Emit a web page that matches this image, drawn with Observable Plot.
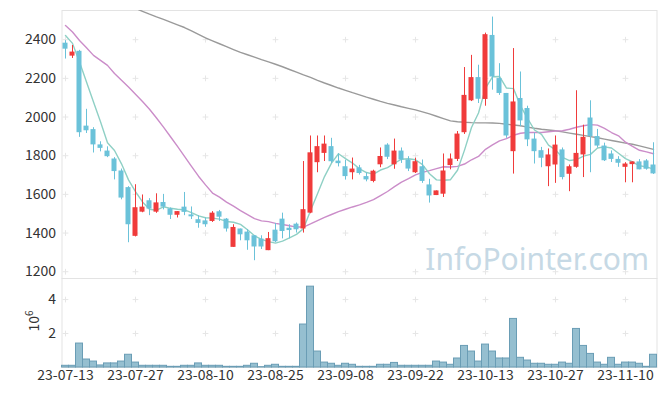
<!DOCTYPE html>
<html><head><meta charset="utf-8">
<script src="https://cdn.jsdelivr.net/npm/d3@7"></script>
<script src="https://cdn.jsdelivr.net/npm/@observablehq/plot@0.6"></script>
<style>
body{margin:0;background:#fff;}
#wrap{position:relative;width:665px;height:396px;font-family:"Noto Sans CJK KR","Noto Sans",sans-serif;overflow:hidden;}
#wrap svg{position:absolute;left:0;}
#unit{position:absolute;left:32px;top:321px;transform:translate(-50%,-50%) rotate(-90deg);font-size:14px;color:#333;white-space:nowrap;}
#unit sup{font-size:10px;}
</style></head><body><div id="wrap"><div id="unit">10<sup>6</sup></div></div>
<script>
const dates = ["23-07-13","23-07-14","23-07-17","23-07-18","23-07-19","23-07-20","23-07-21","23-07-24","23-07-25","23-07-26",
"23-07-27","23-07-28","23-07-31","23-08-01","23-08-02","23-08-03","23-08-04","23-08-07","23-08-08","23-08-09",
"23-08-10","23-08-11","23-08-14","23-08-16","23-08-17","23-08-18","23-08-21","23-08-22","23-08-23","23-08-24",
"23-08-25","23-08-28","23-08-29","23-08-30","23-08-31","23-09-01","23-09-04","23-09-05","23-09-06","23-09-07",
"23-09-08","23-09-11","23-09-12","23-09-13","23-09-14","23-09-15","23-09-18","23-09-19","23-09-20","23-09-21",
"23-09-22","23-09-25","23-09-26","23-09-27","23-10-04","23-10-05","23-10-06","23-10-10","23-10-11","23-10-12",
"23-10-13","23-10-16","23-10-17","23-10-18","23-10-19","23-10-20","23-10-23","23-10-24","23-10-25","23-10-26",
"23-10-27","23-10-30","23-10-31","23-11-01","23-11-02","23-11-03","23-11-06","23-11-07","23-11-08","23-11-09",
"23-11-10","23-11-13","23-11-14","23-11-15","23-11-16"];

const open  = [2382,2315,2340,1953,1935,1856,1824,1783,1721,1635, 1383,1508,1567,1508,1558,1525,1492,1534,1494,1469,
               1463,1460,1510,1472,1326,1421,1405,1386,1369,1309, 1415,1472,1425,1446,1421,1503,1764,1812,1847,1772,
               1743,1712,1737,1692,1667,1753,1855,1753,1824,1778, 1712,1743,1649,1594,1601,1749,1781,1919,2084,2204,
               2091,2422,2199,2122,1821,2096,2044,1886,1826,1743, 1752,1830,1704,1740,1804,1995,1899,1850,1809,1781,
               1740,1754,1768,1773,1752];
const high  = [2395,2370,2345,2040,1945,1872,1846,1790,1731,1640, 1650,1597,1578,1603,1600,1530,1511,1610,1535,1490,
               1478,1511,1517,1475,1443,1421,1418,1386,1386,1403, 1450,1503,1443,1452,1770,1902,1902,1902,1890,1810,
               1777,1788,1750,1710,1725,1840,1862,1886,1840,1795, 1787,1778,1678,1618,1809,1809,1925,2256,2319,2268,
               2434,2517,2276,2122,2354,2233,2056,1917,1843,1835, 1902,1840,1752,2136,1958,2084,1936,1865,1825,1795,
               1764,1768,1780,1780,1867];
const low   = [2300,2303,1895,1915,1814,1820,1790,1675,1572,1350, 1380,1505,1490,1502,1520,1470,1478,1490,1470,1425,
               1430,1455,1460,1405,1326,1360,1311,1257,1315,1309, 1350,1370,1370,1400,1400,1500,1712,1770,1760,1742,
               1674,1675,1700,1665,1660,1738,1780,1730,1760,1718, 1708,1657,1555,1594,1584,1727,1770,1910,2080,2070,
               2056,2139,2112,1890,1705,1950,1847,1757,1738,1640, 1657,1675,1614,1735,1687,1712,1840,1770,1765,1740,
               1660,1660,1727,1725,1703];
const close = [2351,2336,1919,1929,1856,1838,1795,1718,1581,1443, 1531,1534,1524,1556,1534,1492,1511,1507,1484,1450,
               1443,1503,1482,1421,1429,1391,1360,1328,1328,1371, 1355,1408,1413,1417,1521,1815,1847,1860,1769,1759,
               1692,1731,1708,1675,1720,1796,1792,1824,1778,1731, 1769,1667,1592,1618,1721,1783,1912,2112,2204,2092,
               2426,2207,2122,1902,2078,1980,1882,1821,1787,1804, 1855,1687,1743,1812,1895,1899,1850,1774,1781,1761,
               1757,1768,1727,1730,1706];
// volume, millions of shares
const volume = [0.10,0.10,1.41,0.47,0.35,0.12,0.24,0.24,0.35,0.75, 0.29,0.10,0.10,0.10,0.10,0.04,0.04,0.10,0.10,0.24,
                0.10,0.10,0.10,0.04,0.04,0.04,0.10,0.22,0.02,0.10, 0.16,0.04,0.04,0.04,2.53,4.76,0.94,0.29,0.22,0.10,
                0.22,0.16,0.04,0.04,0.04,0.16,0.16,0.27,0.10,0.10, 0.10,0.10,0.10,0.35,0.29,0.16,0.53,1.27,0.94,0.35,
                1.35,0.94,0.53,0.53,2.86,0.57,0.41,0.22,0.22,0.16, 0.16,0.29,0.22,2.27,1.27,0.80,0.29,0.16,0.57,0.16,
                0.29,0.29,0.22,0.04,0.75];
const ma5  = [2422,2381,2285,2181,2078,1976,1867,1827,1758,1675, 1614,1561,1523,1518,1536,1528,1523,1520,1506,1489,
              1479,1477,1472,1460,1456,1445,1417,1386,1367,1356, 1348,1358,1375,1393,1423,1515,1603,1692,1762,1810,
              1785,1762,1732,1713,1705,1726,1738,1761,1782,1784, 1779,1754,1707,1675,1673,1676,1725,1829,1946,2021,
              2149,2208,2210,2150,2147,2058,1993,1933,1910,1855, 1830,1791,1775,1780,1798,1807,1840,1846,1840,1813,
              1785,1768,1748,1742,1731];
const ma20 = [2474,2440,2396,2358,2319,2293,2267,2225,2190,2155, 2118,2080,2040,1995,1948,1898,1848,1797,1745,1694,
              1649,1607,1586,1560,1539,1516,1495,1475,1463,1459, 1450,1444,1438,1431,1431,1447,1464,1481,1496,1511,
              1523,1535,1546,1559,1573,1594,1615,1640,1663,1681, 1701,1714,1723,1733,1743,1742,1745,1757,1779,1796,
              1833,1856,1877,1888,1906,1916,1920,1920,1920,1924, 1928,1929,1937,1947,1955,1961,1958,1941,1920,1903,
              1870,1848,1828,1820,1810];
const ma60 = [2698,2684,2671,2657,2644,2630,2617,2603,2590,2576, 2562,2547,2532,2518,2505,2491,2477,2463,2445,2427,
              2409,2394,2379,2364,2349,2334,2322,2310,2297,2285, 2273,2260,2246,2232,2218,2205,2190,2176,2163,2150,
              2138,2126,2115,2103,2092,2081,2071,2062,2053,2045, 2037,2027,2016,2004,1992,1980,1976,1973,1971,1970,
              1970,1969,1967,1963,1959,1955,1948,1942,1937,1933, 1929,1923,1917,1911,1905,1899,1893,1886,1879,1872,
              1865,1859,1851,1842,1833];

const tickIdx = [0,10,20,30,40,50,60,70,80];
const priceTicks = [1200,1400,1600,1800,2000,2200,2400];
const volTicks = [2,4];

const candles = dates.map((d,i)=>({i, date:d, open:open[i], high:high[i], low:low[i], close:close[i], volume:volume[i],
  ma5:ma5[i], ma20:ma20[i], ma60:ma60[i]}));

const UP = "#f03b3b", DOWN = "#6bc2d9";
const colorOf = d => d.close >= d.open ? UP : DOWN;
const W = 665, ML = 61.5, MR = 8.5;
const font = '"Noto Sans CJK KR","Noto Sans",sans-serif';

const priceGrid = tickIdx.flatMap(i => priceTicks.map(p => ({i, p})));
const volGrid = tickIdx.flatMap(i => volTicks.map(v => ({i, v})));

const price = Plot.plot({
  width: W, height: 278,
  marginLeft: ML, marginRight: MR, marginTop: 10, marginBottom: 0,
  style: {fontFamily: font, background: "transparent", overflow: "visible"},
  x: {type: "linear", domain: [-0.5, 84.5], axis: null},
  y: {domain: [1165, 2551], axis: null},
  marks: [
    Plot.frame({stroke: "#e3e3e3"}),
    Plot.dot(priceGrid, {x: "i", y: "p", symbol: "plus", r: 2, stroke: "#e6e6e6", strokeWidth: 1}),
    Plot.text(priceTicks, {y: d => d, text: d => String(d), frameAnchor: "left", textAnchor: "end", dx: -6, fontSize: 14, fill: "#333"}),
    Plot.text(["InfoPointer.com"], {frameAnchor: "bottom-right", textAnchor: "end", lineAnchor: "bottom", dx: -8, dy: -9, fontSize: 30, fill: "#c6d9e5", fontFamily: '"Noto Sans",sans-serif'}),
    Plot.line(candles, {x: "i", y: "ma60", stroke: "#9a9a9a", strokeWidth: 1.4, clip: true}),
    Plot.line(candles, {x: "i", y: "ma20", stroke: "#cb8dc9", strokeWidth: 1.4, clip: true}),
    Plot.line(candles, {x: "i", y: "ma5", stroke: "#8fd0c5", strokeWidth: 1.4, clip: true}),
    Plot.ruleX(candles, {x: "i", y1: "low", y2: "high", stroke: colorOf, strokeWidth: 1}),
    Plot.rect(candles, {x1: d => d.i - 0.5, x2: d => d.i + 0.5, y1: "open", y2: "close", fill: colorOf, insetLeft: 1, insetRight: 1})
  ]
});
price.style.top = "0px";

const vol = Plot.plot({
  width: W, height: 118,
  marginLeft: ML, marginRight: MR, marginTop: 0, marginBottom: 29,
  style: {fontFamily: font, background: "transparent", overflow: "visible"},
  x: {type: "linear", domain: [-0.5, 84.5], axis: null},
  y: {domain: [0, 5.24], axis: null},
  marks: [
    Plot.frame({stroke: "#e3e3e3"}),
    Plot.dot(volGrid, {x: "i", y: "v", symbol: "plus", r: 2, stroke: "#e6e6e6", strokeWidth: 1}),
    Plot.text(volTicks, {y: d => d, text: d => String(d), frameAnchor: "left", textAnchor: "end", dx: -6, fontSize: 14, fill: "#333"}),
    Plot.rect(candles, {x1: d => d.i - 0.5, x2: d => d.i + 0.5, y1: 0, y2: "volume", fill: "#95bfd0", stroke: "#6a9db5", strokeWidth: 1}),
    Plot.text(tickIdx, {x: d => d, text: d => dates[d], frameAnchor: "bottom", lineAnchor: "top", dy: 3, fontSize: 14, fill: "#333"})
  ]
});
vol.style.top = "278px";

const wrap = document.getElementById("wrap");
wrap.appendChild(price);
wrap.appendChild(vol);
</script>
</body></html>
